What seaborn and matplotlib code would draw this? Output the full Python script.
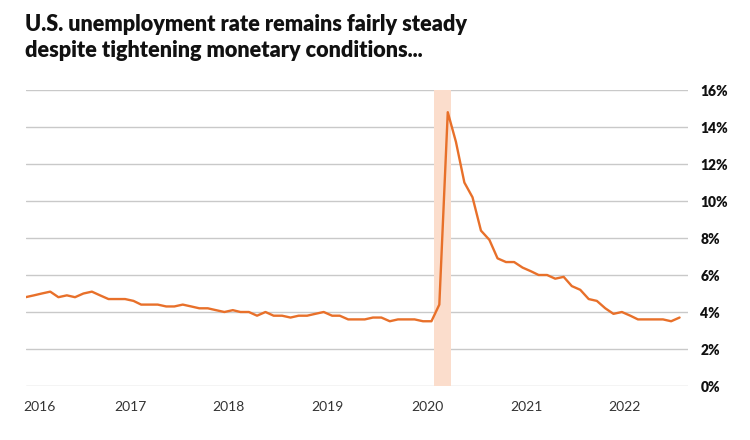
import matplotlib
matplotlib.use("Agg")
import matplotlib.pyplot as plt
import pandas as pd
import seaborn as sns

# monthly U.S. unemployment rate (%), Jan 2016 - Aug 2022
rate_2016 = [4.8, 4.9, 5.0, 5.1, 4.8, 4.9, 4.8, 5.0, 5.1, 4.9, 4.7, 4.7]
rate_2017 = [4.7, 4.6, 4.4, 4.4, 4.4, 4.3, 4.3, 4.4, 4.3, 4.2, 4.2, 4.1]
rate_2018 = [4.0, 4.1, 4.0, 4.0, 3.8, 4.0, 3.8, 3.8, 3.7, 3.8, 3.8, 3.9]
rate_2019 = [4.0, 3.8, 3.8, 3.6, 3.6, 3.6, 3.7, 3.7, 3.5, 3.6, 3.6, 3.6]
rate_2020 = [3.5, 3.5, 4.4, 14.8, 13.2, 11.0, 10.2, 8.4, 7.9, 6.9, 6.7, 6.7]
rate_2021 = [6.4, 6.2, 6.0, 6.0, 5.8, 5.9, 5.4, 5.2, 4.7, 4.6, 4.2, 3.9]
rate_2022 = [4.0, 3.8, 3.6, 3.6, 3.6, 3.6, 3.5, 3.7]

start_month = "2016-01-01"
recession = ("2020-02-12", "2020-04-12")
year_labels = ["2016", "2017", "2018", "2019", "2020", "2021", "2022"]
year_label_dates = ["2016-02-20", "2017-01-20", "2018-01-16", "2019-01-16",
                    "2020-01-16", "2021-01-16", "2022-01-10"]
y_ticks = [0, 2, 4, 6, 8, 10, 12, 14, 16]

LINE = "#E8702A"
BAND = "#FBDDCC"
GRID = "#C9C9C9"

rates = rate_2016 + rate_2017 + rate_2018 + rate_2019 + rate_2020 + rate_2021 + rate_2022
df = pd.DataFrame({
    "date": pd.date_range(start_month, periods=len(rates), freq="MS"),
    "rate": rates,
})

sns.set_theme(style="white")
plt.rcParams["font.family"] = ["Lato", "DejaVu Sans"]

fig = plt.figure(figsize=(7.5, 4.4), dpi=100)
ax = fig.add_axes([25.5 / 750, 54 / 440, (688 - 25.5) / 750, 296 / 440])

ax.axvspan(pd.Timestamp(recession[0]), pd.Timestamp(recession[1]),
           color=BAND, lw=0, zorder=1)
sns.lineplot(data=df, x="date", y="rate", color=LINE, lw=1.7, ax=ax, zorder=3)

ax.set_ylim(0, 16)
ax.set_xlim(pd.Timestamp(start_month), pd.Timestamp("2022-09-01"))
ax.set_yticks(y_ticks)
ax.set_yticklabels([f"{v}%" for v in y_ticks])
ax.yaxis.tick_right()
ax.set_xticks([pd.Timestamp(d) for d in year_label_dates])
ax.set_xticklabels(year_labels)
ax.grid(axis="y", color=GRID, lw=1)
ax.grid(axis="x", visible=False)
for s in ax.spines.values():
    s.set_visible(False)
ax.tick_params(axis="y", length=0, pad=9, labelsize=10, labelcolor="#111111")
ax.tick_params(axis="x", length=0, pad=11, labelsize=10, labelcolor="#333333")
for lab in ax.get_yticklabels():
    lab.set_fontweight("heavy")
ax.set_xlabel("")
ax.set_ylabel("")

fig.text(25 / 750, 1 - 14 / 440,
         "U.S. unemployment rate remains fairly steady\ndespite tightening monetary conditions...",
         fontsize=15.6, fontweight="heavy", color="#111111", va="top",
         linespacing=1.3)

fig.savefig("out.png", dpi=100)
